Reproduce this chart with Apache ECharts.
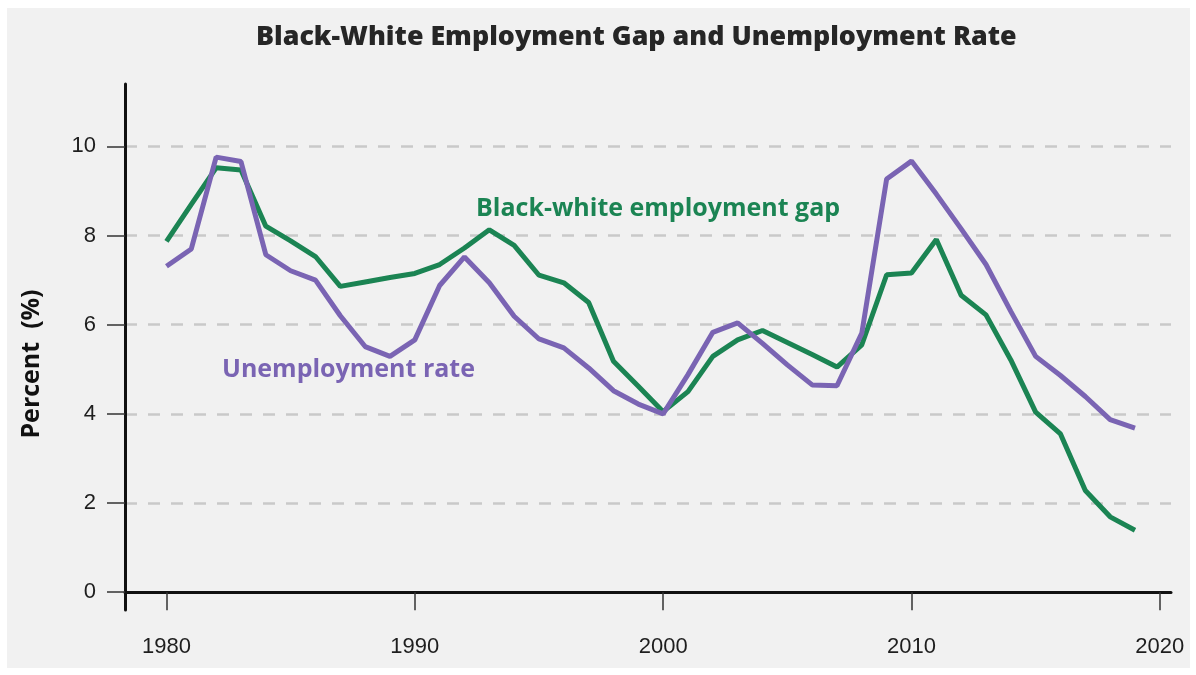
<!DOCTYPE html>
<html>
<head>
<meta charset="utf-8">
<title>Black-White Employment Gap and Unemployment Rate</title>
<script src="https://cdn.jsdelivr.net/npm/echarts@6/dist/echarts.min.js"></script>
<style>
  html, body { margin: 0; padding: 0; background: #fff; }
  #chart { width: 1196px; height: 675px; }
</style>
</head>
<body>
<div id="chart"></div>
<script>
// values
const years = [
  1980, 1981, 1982, 1983, 1984, 1985, 1986, 1987, 1988, 1989,
  1990, 1991, 1992, 1993, 1994, 1995, 1996, 1997, 1998, 1999,
  2000, 2001, 2002, 2003, 2004, 2005, 2006, 2007, 2008, 2009,
  2010, 2011, 2012, 2013, 2014, 2015, 2016, 2017, 2018, 2019
]
const employmentGap = [
  7.87, 8.70, 9.52, 9.47, 8.21, 7.88, 7.53, 6.86, 6.96, 7.06,
  7.15, 7.35, 7.72, 8.13, 7.78, 7.11, 6.94, 6.50, 5.18, 4.62,
  4.05, 4.50, 5.29, 5.66, 5.87, 5.60, 5.33, 5.05, 5.55, 7.12,
  7.16, 7.91, 6.66, 6.22, 5.21, 4.04, 3.55, 2.28, 1.69, 1.39
]
const unemploymentRate = [
  7.31, 7.70, 9.76, 9.66, 7.57, 7.21, 7.00, 6.20, 5.51, 5.29,
  5.66, 6.88, 7.52, 6.94, 6.19, 5.68, 5.48, 5.03, 4.52, 4.22,
  4.00, 4.88, 5.83, 6.04, 5.58, 5.10, 4.65, 4.63, 5.81, 9.27,
  9.67, 8.93, 8.15, 7.35, 6.30, 5.29, 4.86, 4.39, 3.87, 3.68
]
const xTicks = [1980, 1990, 2000, 2010, 2020]
const yTicks = [0, 2, 4, 6, 8, 10]

const GREEN = '#1b8453'
const PURPLE = '#7a64b3'
const labelFont = "'Liberation Sans', Arial, sans-serif"
const boldFont = "'Open Sans', 'Noto Sans', sans-serif"

const chart = echarts.init(document.getElementById('chart'), null, { renderer: 'canvas' })

const toPairs = vals => years.map((y, i) => [y, vals[i]])

chart.setOption({
  backgroundColor: '#ffffff',
  animation: false,
  title: {
    text: 'Black-White Employment Gap and Unemployment Rate',
    left: 251,
    top: 19,
    textStyle: {
      fontFamily: boldFont,
      fontWeight: 800,
      fontSize: 26.8,
      color: '#262626'
    }
  },
  graphic: [
    {
      type: 'rect',
      z: -10,
      silent: true,
      shape: { x: 7, y: 8, width: 1183, height: 660 },
      style: { fill: '#f1f1f1' }
    },
    {
      type: 'text',
      x: 32,
      y: 364,
      rotation: Math.PI / 2,
      style: {
        text: 'Percent  (%)',
        font: `bold 25px ${boldFont}`,
        fill: '#111',
        align: 'center',
        verticalAlign: 'middle'
      }
    },
    {
      type: 'text',
      left: 476,
      top: 196,
      style: {
        text: 'Black-white employment gap',
        font: `bold 25px ${boldFont}`,
        fill: GREEN
      }
    },
    {
      type: 'text',
      left: 222,
      top: 357,
      style: {
        text: 'Unemployment rate',
        font: `bold 25px ${boldFont}`,
        fill: PURPLE
      }
    }
  ],
  grid: { left: 125, right: 25, top: 84, bottom: 65, containLabel: false },
  xAxis: {
    type: 'value',
    min: 1978.33,
    max: 2020.45,
    axisLine: { lineStyle: { color: '#111', width: 3 } },
    axisTick: {
      customValues: xTicks,
      length: 18,
      lineStyle: { color: '#333', width: 1.5 }
    },
    axisLabel: {
      customValues: xTicks,
      formatter: v => String(v),
      margin: 26,
      fontFamily: labelFont,
      fontSize: 22,
      color: '#1e1e1e'
    },
    splitLine: { show: false }
  },
  yAxis: {
    type: 'value',
    min: -0.4,
    max: 11.4,
    axisLine: { show: true, lineStyle: { color: '#111', width: 3 } },
    axisTick: {
      show: true,
      customValues: yTicks,
      length: 18,
      lineStyle: { color: '#333', width: 1.5 }
    },
    axisLabel: {
      customValues: yTicks,
      margin: 29,
      fontFamily: labelFont,
      fontSize: 22,
      color: '#1e1e1e'
    },
    splitLine: {
      show: true,
      lineStyle: { color: '#c9c9c9', width: 2.5, type: [12, 11] }
    }
  },
  series: [
    {
      name: 'Black-white employment gap',
      type: 'line',
      data: toPairs(employmentGap),
      showSymbol: false,
      lineStyle: { color: GREEN, width: 5 },
      itemStyle: { color: GREEN },
      z: 2
    },
    {
      name: 'Unemployment rate',
      type: 'line',
      data: toPairs(unemploymentRate),
      showSymbol: false,
      lineStyle: { color: PURPLE, width: 5 },
      itemStyle: { color: PURPLE },
      z: 3
    }
  ]
})
</script>
</body>
</html>
